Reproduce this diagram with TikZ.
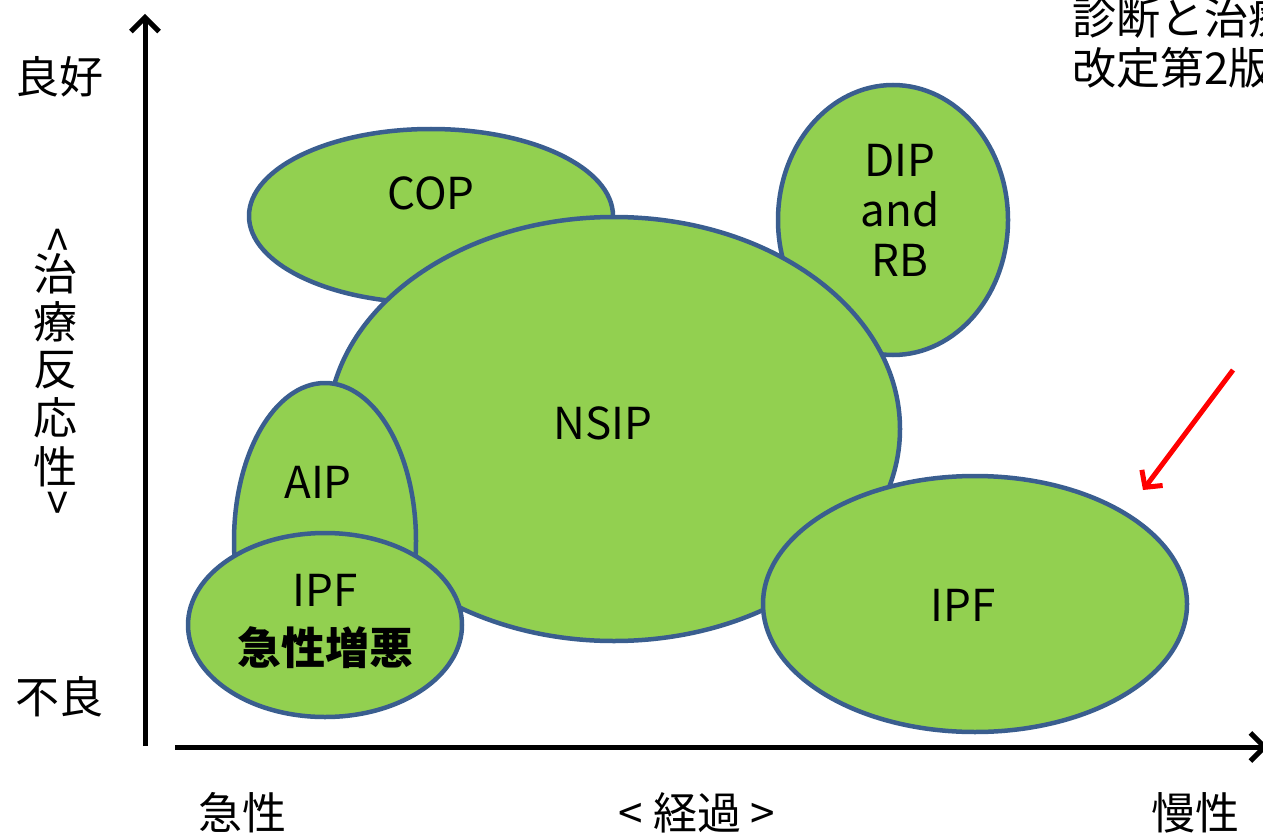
\documentclass[tikz,border=0pt]{standalone}
\usepackage{fontspec}
\setmainfont{Noto Sans CJK JP}
\usetikzlibrary{arrows.meta,shapes.geometric}
\definecolor{blobfill}{HTML}{92D050}
\definecolor{blobline}{HTML}{3A5E8F}
\begin{document}
\begin{tikzpicture}[x=1pt,y=-1pt,
  blob/.style={ellipse, draw=blobline, fill=blobfill, line width=4.5pt, inner sep=0pt, outer sep=0pt},
  lbl/.style={font=\fontsize{44}{52}\selectfont, align=center, inner sep=0pt},
  axis/.style={line width=5pt, -{Straight Barb[length=14pt,width=28pt,line width=5pt]}},
]
\useasboundingbox (0,0) rectangle (1263,837);
\clip (0,0) rectangle (1263,837);
% ellipses
\node[blob, minimum width=364pt, minimum height=174pt] (copE) at (431,216) {};
\node[blob, minimum width=230pt, minimum height=270pt] (dipE) at (893,220) {};
\node[blob, minimum width=572pt, minimum height=424pt] (nsipE) at (614,429) {};
\node[blob, minimum width=182pt, minimum height=316pt] (aipE) at (325,541) {};
\node[blob, minimum width=274pt, minimum height=184pt] (ipfaE) at (325,625) {};
\node[blob, minimum width=424pt, minimum height=256pt] (ipfE) at (975,604) {};
% labels in ellipses
\node[lbl] (cop) at (431,193) {COP};
\node[lbl] (dip) at (900,210) {DIP\\[-2pt]and\\[-2pt]RB};
\node[lbl] (nsip) at (603,423) {NSIP};
\node[lbl] (aip) at (318,482) {AIP};
\node[lbl] (ipfa) at (325,590) {IPF};
\node[lbl, font=\fontsize{44}{52}\selectfont\bfseries] (ipfab) at (325,648) {急性増悪};
\node[lbl] (ipf) at (963,605) {IPF};
% axes
\coordinate (yo) at (145,746);
\coordinate (yt) at (145,14);
\coordinate (xo) at (175,747);
\coordinate (xt) at (1268,747);
\draw[axis] (yo) -- (yt);
\draw[axis] (xo) -- (xt);
% red arrow
\coordinate (ra) at (1233,370);
\coordinate (rb) at (1143,490);
\draw[red, line width=5pt, -{Straight Barb[length=12pt,width=26pt,line width=5pt]}] (ra) -- (rb);
% axis labels
\node[lbl] (good) at (60,77) {良好};
\node[lbl] (bad) at (60,697) {不良};
\node[lbl, rotate=-90] (vl1) at (55,240) {<};
\node[lbl] (vl2) at (55,274) {治};
\node[lbl] (vl3) at (55,322) {療};
\node[lbl] (vl4) at (55,370) {反};
\node[lbl] (vl5) at (55,418) {応};
\node[lbl] (vl6) at (55,467) {性};
\node[lbl, rotate=-90] (vl7) at (55,503) {>};
\node[lbl] (acute) at (242,813) {急性};
\node[lbl] (course) at (697,813) {< 経過 >};
\node[lbl] (chronic) at (1195,813) {慢性};
% source text (cut off at the right edge, as in the reference)
\node[lbl, anchor=west] (src1) at (1072,18) {診断と治療社};
\node[lbl, anchor=west] (src2) at (1072,68) {改定第2版};
\end{tikzpicture}
\end{document}
